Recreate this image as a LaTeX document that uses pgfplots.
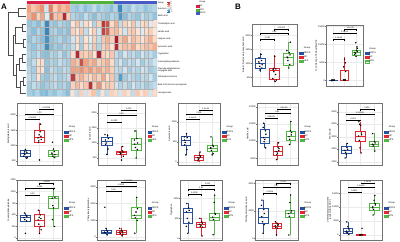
\documentclass[border=0pt]{standalone}
\usepackage{pgfplots}
\pgfplotsset{compat=1.18}
\usepgfplotslibrary{statistics}
\usepackage{fontspec}
\setmainfont{Liberation Sans}
\definecolor{cb}{RGB}{40,80,160}
\definecolor{cr}{RGB}{228,40,50}
\definecolor{cg}{RGB}{85,180,70}
\definecolor{ar}{RGB}{220,30,70}
\definecolor{ag}{RGB}{80,180,60}
\definecolor{ab}{RGB}{70,90,200}
\newcommand\fs[1]{\fontsize{#1}{#1}\selectfont}
\newcommand\bxp[7]{\addplot[#2,line width=0.4bp,boxplot prepared={draw position=#1,box extend=0.7,whisker extend=0,lower whisker=#3,lower quartile=#4,median=#5,upper quartile=#6,upper whisker=#7}] coordinates {};}
\newcommand\pts[2]{\addplot[only marks,mark=*,mark size=0.5bp,draw=none,fill=#1!80!black] coordinates {#2};}
\newcommand\brk[6]{\addplot[black,line width=0.25bp] coordinates {(#1,#5)(#1,#4)(#2,#4)(#2,#5)};
  \node[font=\fs{2.1},anchor=south,inner sep=0.25bp] at (axis cs:#3,#4) {#6};}
\newcommand\leg{\addlegendimage{empty legend}\addlegendimage{cb}\addlegendimage{cr}\addlegendimage{cg}\legend{Group,NDCS,NC,HFS}}
\pgfplotsset{
 bx/.style={scale only axis, clip=false, xmin=0.4, xmax=3.6,
  xtick={1,2,3}, xticklabels={},
  axis line style={black!55, line width=0.45bp},
  major tick length=0.8bp, tick style={black!55, line width=0.25bp},
  ytick pos=left, xtick pos=bottom, tick align=outside,
  grid=major, grid style={black!8, line width=0.3bp},
  scaled y ticks=false,
  /pgf/number format/assume math mode=true,
  yticklabel style={font=\fs{2.3}, /pgf/number format/1000 sep={}, /pgf/number format/fixed, inner sep=0.4bp},
  ylabel style={font=\fs{2.3}, inner sep=0.3bp, align=center},
  boxplot/draw direction=y,
  legend style={at={(1.05,0.5)}, anchor=west, draw=none, fill=none, font=\fs{2.3}, inner sep=0pt, nodes={inner sep=0.4bp}, row sep=0.2bp},
  legend cell align=left,
  legend image code/.code={\draw[##1,fill=white,line width=0.35bp](0bp,-1.1bp) rectangle (3.6bp,1.1bp); \draw[##1,line width=0.35bp](0bp,0bp)--(3.6bp,0bp);},
 }
}
\begin{document}
\begin{tikzpicture}
\useasboundingbox (0bp,0bp) rectangle (400bp,242bp);
\node[font=\fs{8}\bfseries, anchor=center] at (4bp,235bp) {A};
\node[font=\fs{8}\bfseries, anchor=center] at (238bp,235bp) {B};

% ---------------- heatmap ----------------
\begin{axis}[at={(27bp,145.5bp)}, anchor=south west, width=130bp, height=95.5bp, scale only axis, clip=false,
 xmin=0.5, xmax=30.5, ymin=0.5, ymax=12.95,
 axis line style={draw=none}, major tick length=0pt, xtick=\empty,
 ytick={1,2,3,4,5,6,7,8,9,10,11,12},
 yticklabels={Levoglucosan,Beta-D-Fructose 6-phosphate,Tetrahydrocortisone,{Phenylacetylglutamine\\conjugate acid},N-acetylphenylalanine,Tryptophan,Kynurenic acid,Hippuric acid,Vanillic acid,Tricarballylic acid,Malic acid,Succinic acid},
 yticklabel pos=right,
 yticklabel style={font=\fs{2.2}, align=left, inner sep=0.6bp},
 colormap={hm}{rgb255(0cm)=(33,102,172); rgb255(0.9cm)=(67,147,195); rgb255(1.8cm)=(146,197,222); rgb255(2.2cm)=(209,229,240); rgb255(2.5cm)=(247,247,247); rgb255(2.9cm)=(253,219,199); rgb255(3.4cm)=(244,165,130); rgb255(4.5cm)=(214,96,77); rgb255(5.5cm)=(178,24,43)},
 point meta min=-2.5, point meta max=3,
 colorbar,
 colorbar style={scale only axis, at={(1.077,0.995)}, anchor=north west, width=3.2bp, height=11bp,
   ytick={-2,-1,0,1,2,3}, yticklabel style={font=\fs{1.8}, inner sep=0.3bp},
   major tick length=0.6bp, tick style={white}, axis line style={draw=none},
   /pgf/number format/assume math mode=true},
 legend style={at={(1.3,1.005)}, anchor=north west, draw=none, fill=none, font=\fs{2.2}, inner sep=0pt, nodes={inner sep=0.35bp}, row sep=0pt},
 legend cell align=left,
 legend image code/.code={\fill[#1](0bp,-0.9bp) rectangle (2.4bp,1.2bp);},
]
\addlegendimage{empty legend}\addlegendimage{ar}\addlegendimage{ag}\addlegendimage{ab}
\legend{Group,NC,HFS,NDCS}
\addplot[matrix plot*, mesh/cols=30, point meta=explicit, draw=black!30, line width=0.12bp] coordinates {
(1,1)[-0.6] (2,1)[-0.7] (3,1)[-0.5] (4,1)[-0.8] (5,1)[-0.9] (6,1)[-0.6] (7,1)[-0.7] (8,1)[-0.5] (9,1)[-0.6] (10,1)[-0.8] (11,1)[0.3] (12,1)[-0.4] (13,1)[0.5] (14,1)[-0.3] (15,1)[0.4] (16,1)[0.6] (17,1)[-0.5] (18,1)[0.3] (19,1)[-0.4] (20,1)[0.5] (21,1)[0.4] (22,1)[-0.3] (23,1)[0.5] (24,1)[0.3] (25,1)[-0.4] (26,1)[0.6] (27,1)[0.3] (28,1)[0.5] (29,1)[-0.3] (30,1)[0.4]

(1,2)[-0.6] (2,2)[-0.4] (3,2)[-0.5] (4,2)[-0.7] (5,2)[-0.6] (6,2)[-0.5] (7,2)[-0.4] (8,2)[-0.6] (9,2)[-0.5] (10,2)[-0.7] (11,2)[0.5] (12,2)[0.7] (13,2)[0.4] (14,2)[0.6] (15,2)[2.7] (16,2)[0.5] (17,2)[1.2] (18,2)[0.4] (19,2)[0.6] (20,2)[0.5] (21,2)[-0.3] (22,2)[-0.5] (23,2)[-0.4] (24,2)[-0.6] (25,2)[-0.3] (26,2)[-0.5] (27,2)[-0.4] (28,2)[-0.6] (29,2)[-0.5] (30,2)[-0.4]

(1,3)[-0.4] (2,3)[-0.5] (3,3)[0.3] (4,3)[-0.6] (5,3)[-0.7] (6,3)[-0.5] (7,3)[-0.4] (8,3)[-0.6] (9,3)[-0.5] (10,3)[-0.4] (11,3)[2.5] (12,3)[0.6] (13,3)[0.8] (14,3)[0.5] (15,3)[0.4] (16,3)[0.7] (17,3)[0.5] (18,3)[0.9] (19,3)[0.3] (20,3)[0.6] (21,3)[-0.5] (22,3)[-1.4] (23,3)[-0.6] (24,3)[-0.4] (25,3)[-0.5] (26,3)[-0.6] (27,3)[-0.4] (28,3)[-0.5] (29,3)[-0.3] (30,3)[-0.6]

(1,4)[-0.5] (2,4)[-0.6] (3,4)[0.4] (4,4)[0.3] (5,4)[-0.8] (6,4)[-0.4] (7,4)[-0.5] (8,4)[-0.6] (9,4)[-0.4] (10,4)[-0.5] (11,4)[1.0] (12,4)[0.9] (13,4)[1.2] (14,4)[0.8] (15,4)[1.1] (16,4)[0.7] (17,4)[0.9] (18,4)[0.6] (19,4)[0.8] (20,4)[0.5] (21,4)[-0.4] (22,4)[-0.5] (23,4)[-0.3] (24,4)[-0.6] (25,4)[-0.4] (26,4)[-0.5] (27,4)[-0.3] (28,4)[-0.4] (29,4)[-0.6] (30,4)[-0.5]

(1,5)[-0.6] (2,5)[-0.4] (3,5)[0.3] (4,5)[0.4] (5,5)[-0.7] (6,5)[-0.5] (7,5)[-0.6] (8,5)[-0.4] (9,5)[-0.5] (10,5)[-0.6] (11,5)[0.8] (12,5)[0.6] (13,5)[2.2] (14,5)[1.0] (15,5)[0.7] (16,5)[0.9] (17,5)[0.5] (18,5)[0.6] (19,5)[0.8] (20,5)[0.4] (21,5)[-0.5] (22,5)[-0.3] (23,5)[-0.6] (24,5)[-0.4] (25,5)[-0.5] (26,5)[-0.3] (27,5)[-0.6] (28,5)[-0.4] (29,5)[-0.5] (30,5)[-0.3]

(1,6)[-0.5] (2,6)[-0.6] (3,6)[-0.4] (4,6)[-0.7] (5,6)[-0.8] (6,6)[-0.5] (7,6)[-0.6] (8,6)[-0.4] (9,6)[-0.7] (10,6)[-0.5] (11,6)[0.4] (12,6)[2.8] (13,6)[0.6] (14,6)[0.5] (15,6)[0.7] (16,6)[0.3] (17,6)[2.9] (18,6)[0.5] (19,6)[0.4] (20,6)[0.6] (21,6)[-0.4] (22,6)[-0.6] (23,6)[-0.3] (24,6)[-0.5] (25,6)[-0.4] (26,6)[-0.6] (27,6)[-0.3] (28,6)[-0.5] (29,6)[-0.4] (30,6)[-0.6]

(1,7)[-0.6] (2,7)[-0.7] (3,7)[-0.5] (4,7)[-0.6] (5,7)[-1.7] (6,7)[-0.8] (7,7)[-0.6] (8,7)[-0.7] (9,7)[-0.5] (10,7)[-0.6] (11,7)[-0.4] (12,7)[0.3] (13,7)[-0.6] (14,7)[0.4] (15,7)[-0.3] (16,7)[0.6] (17,7)[-0.5] (18,7)[0.5] (19,7)[0.7] (20,7)[0.3] (21,7)[2.8] (22,7)[0.5] (23,7)[0.7] (24,7)[0.6] (25,7)[0.9] (26,7)[0.4] (27,7)[0.5] (28,7)[0.7] (29,7)[0.6] (30,7)[0.8]

(1,8)[-0.7] (2,8)[-0.5] (3,8)[-0.6] (4,8)[-0.8] (5,8)[-1.6] (6,8)[-0.7] (7,8)[-0.6] (8,8)[-0.5] (9,8)[-0.7] (10,8)[-0.6] (11,8)[-0.3] (12,8)[0.4] (13,8)[-0.5] (14,8)[0.3] (15,8)[-0.2] (16,8)[0.5] (17,8)[-0.4] (18,8)[0.6] (19,8)[0.8] (20,8)[0.5] (21,8)[3.0] (22,8)[0.6] (23,8)[0.9] (24,8)[0.4] (25,8)[0.7] (26,8)[0.5] (27,8)[0.3] (28,8)[0.6] (29,8)[0.8] (30,8)[0.4]

(1,9)[-0.6] (2,9)[-0.8] (3,9)[-0.5] (4,9)[-0.7] (5,9)[-1.9] (6,9)[-0.6] (7,9)[-0.5] (8,9)[-0.7] (9,9)[-0.6] (10,9)[-0.8] (11,9)[0.5] (12,9)[0.3] (13,9)[0.6] (14,9)[-0.4] (15,9)[0.2] (16,9)[0.5] (17,9)[-0.3] (18,9)[2.4] (19,9)[2.0] (20,9)[0.6] (21,9)[0.7] (22,9)[0.4] (23,9)[-0.3] (24,9)[0.5] (25,9)[0.6] (26,9)[0.3] (27,9)[-0.2] (28,9)[0.4] (29,9)[0.5] (30,9)[0.2]

(1,10)[-0.7] (2,10)[-0.6] (3,10)[-0.8] (4,10)[-0.5] (5,10)[-1.8] (6,10)[-0.6] (7,10)[-0.7] (8,10)[-0.5] (9,10)[-0.6] (10,10)[-0.7] (11,10)[0.3] (12,10)[0.6] (13,10)[-0.3] (14,10)[0.4] (15,10)[0.2] (16,10)[-0.5] (17,10)[0.5] (18,10)[2.6] (19,10)[2.2] (20,10)[0.4] (21,10)[0.8] (22,10)[-0.4] (23,10)[0.5] (24,10)[0.3] (25,10)[0.6] (26,10)[-0.3] (27,10)[0.4] (28,10)[0.5] (29,10)[-0.2] (30,10)[0.3]

(1,11)[0.8] (2,11)[1.2] (3,11)[0.5] (4,11)[0.9] (5,11)[-0.2] (6,11)[1.8] (7,11)[0.6] (8,11)[0.7] (9,11)[2.8] (10,11)[0.5] (11,11)[-0.5] (12,11)[-0.6] (13,11)[-0.7] (14,11)[-0.4] (15,11)[-0.6] (16,11)[-0.8] (17,11)[-0.5] (18,11)[-0.6] (19,11)[-0.7] (20,11)[-0.5] (21,11)[-0.6] (22,11)[-1.5] (23,11)[-0.8] (24,11)[-0.5] (25,11)[-0.6] (26,11)[-0.7] (27,11)[-0.4] (28,11)[-0.6] (29,11)[-0.5] (30,11)[-0.7]

(1,12)[1.0] (2,12)[0.6] (3,12)[0.8] (4,12)[1.2] (5,12)[-0.3] (6,12)[1.5] (7,12)[0.5] (8,12)[1.0] (9,12)[0.7] (10,12)[0.9] (11,12)[-0.6] (12,12)[-0.7] (13,12)[-0.5] (14,12)[-0.8] (15,12)[-0.6] (16,12)[-0.4] (17,12)[-0.7] (18,12)[-0.5] (19,12)[-0.6] (20,12)[-0.8] (21,12)[-0.5] (22,12)[-1.8] (23,12)[-0.6] (24,12)[-0.7] (25,12)[-0.4] (26,12)[-0.6] (27,12)[-0.5] (28,12)[-0.7] (29,12)[-0.6] (30,12)[-0.5]
};
% annotation bar
\addplot[fill=ar, draw=none] coordinates {(0.5,12.55)(10.5,12.55)(10.5,12.95)(0.5,12.95)} -- cycle;
\addplot[fill=ag, draw=none] coordinates {(10.5,12.55)(20.5,12.55)(20.5,12.95)(10.5,12.95)} -- cycle;
\addplot[fill=ab, draw=none] coordinates {(20.5,12.55)(30.5,12.55)(30.5,12.95)(20.5,12.95)} -- cycle;
\node[anchor=west, font=\fs{2.2}, inner sep=0.6bp] at (axis cs:30.5,12.75) {Group};
% dendrogram
\addplot[black!70, line width=0.25bp] coordinates {(0.3,12)(-1.58,12)(-1.58,11)(0.3,11)};
\addplot[black!70, line width=0.25bp] coordinates {(0.3,10)(-0.65,10)(-0.65,9)(0.3,9)};
\addplot[black!70, line width=0.25bp] coordinates {(0.3,8)(-0.42,8)(-0.42,7)(0.3,7)};
\addplot[black!70, line width=0.25bp] coordinates {(-0.65,9.5)(-2.27,9.5)(-2.27,7.5)(-0.42,7.5)};
\addplot[black!70, line width=0.25bp] coordinates {(0.3,6)(-0.65,6)(-0.65,5)(0.3,5)};
\addplot[black!70, line width=0.25bp] coordinates {(-0.65,5.5)(-1.35,5.5)(-1.35,4)(0.3,4)};
\addplot[black!70, line width=0.25bp] coordinates {(0.3,3)(-0.42,3)(-0.42,2)(0.3,2)};
\addplot[black!70, line width=0.25bp] coordinates {(-0.42,2.5)(-1.12,2.5)(-1.12,1)(0.3,1)};
\addplot[black!70, line width=0.25bp] coordinates {(-1.35,4.75)(-2.04,4.75)(-2.04,1.75)(-1.12,1.75)};
\addplot[black!70, line width=0.25bp] coordinates {(-2.27,8.5)(-2.73,8.5)(-2.73,3.25)(-2.04,3.25)};
\addplot[black!70, line width=0.25bp] coordinates {(-1.58,11.5)(-3.88,11.5)(-3.88,5.875)(-2.73,5.875)};
\end{axis}

% ---------------- B1 ----------------
\begin{axis}[bx, at={(252bp,156bp)}, width=45bp, height=62bp, ymin=190, ymax=2400, ytick={500,1000,1500,2000}, ylabel={Beta-D-Fructose 6-phosphate acid}]
\leg
\bxp{1}{cb}{700}{820}{998}{1176}{1354}
\bxp{2}{cr}{343}{439}{760}{820}{1293}
\bxp{3}{cg}{820}{938}{1212}{1354}{1767}
\pts{cb}{(0.92,1000)(1.08,1100)(0.95,890)(1.12,950)(0.88,1050)(1.05,1320)(0.97,760)(1.1,830)(0.9,1200)}
\pts{cr}{(1.9,780)(2.1,800)(1.95,700)(2.08,600)(1.88,450)(2.12,400)(2.02,1250)(1.93,820)(2.05,350)}
\pts{cg}{(2.9,1220)(3.1,1300)(2.95,1100)(3.08,950)(2.88,1450)(3.12,1750)(3.02,830)(2.93,1200)(3.05,1380)}
\brk{1}{2}{1.5}{1852}{1807}{0.035}
\brk{1}{3}{2}{2066}{2021}{0.12}
\brk{2}{3}{2.5}{2209}{2164}{0.00073}
\end{axis}

% ---------------- B2 ----------------
\begin{axis}[bx, at={(326bp,156bp)}, width=37bp, height=61bp, ymin=-1500, ymax=15340, ytick={0,5000,10000,15000}, ylabel={N-(1-Deoxy-1-fructosyl)leucine}]
\leg
\bxp{1}{cb}{0}{20}{60}{120}{200}
\bxp{2}{cr}{0}{100}{200}{2900}{6400}
\bxp{3}{cg}{6600}{7050}{7800}{8450}{9350}
\pts{cb}{(0.9,50)(1.1,80)(0.95,30)(1.05,120)(0.88,10)(1.12,150)(1.0,60)(0.93,200)}
\pts{cr}{(1.9,150)(2.1,100)(1.95,200)(2.05,300)(2.1,2500)(1.92,3800)(2.08,4900)(2.0,5900)(1.97,80)}
\pts{cg}{(2.9,7800)(3.1,8000)(2.95,7500)(3.05,8300)(2.88,7200)(3.12,8900)(3.0,6700)(2.97,10450)(3.08,9300)}
\brk{1}{2}{1.5}{11390}{11060}{1.1e-05}
\brk{1}{3}{2}{13050}{12720}{1.1e-05}
\brk{2}{3}{2.5}{14150}{13820}{1.1e-05}
\end{axis}

% ---------------- Row 2 ----------------
\begin{axis}[bx, at={(17bp,77bp)}, width=45bp, height=62bp, ymin=358, ymax=2395, ytick={500,1000,1500,2000}, ylabel={Methylmalonic acid}]
\leg
\bxp{1}{cb}{578}{631}{743}{828}{875}
\bxp{2}{cr}{1072}{1105}{1270}{1486}{1730}
\bxp{3}{cg}{578}{631}{720}{828}{907}
\pts{cb}{(0.9,740)(1.1,760)(0.95,700)(1.05,820)(0.88,650)(1.12,600)(1.0,870)(0.93,790)(1.08,580)}
\pts{cr}{(1.9,1250)(2.1,1300)(1.95,1150)(2.05,1450)(1.92,1100)(2.08,1700)(2.0,523)(1.97,1350)(2.12,1200)}
\pts{cg}{(2.9,720)(3.1,700)(2.95,650)(3.05,800)(2.92,1105)(3.08,600)(3.0,880)(2.88,750)}
\brk{1}{2}{1.5}{1862}{1822}{0.00025}
\brk{1}{3}{2}{2036}{1996}{0.72}
\brk{2}{3}{2.5}{2190}{2150}{0.00025}
\end{axis}

\begin{axis}[bx, at={(98bp,77bp)}, width=47bp, height=62bp, ymin=267, ymax=2333, ytick={500,1000,1500,2000}, ylabel={Succinic acid}]
\leg
\bxp{1}{cb}{600}{933}{1076}{1209}{1300}
\bxp{2}{cr}{490}{633}{690}{743}{900}
\bxp{3}{cg}{490}{767}{966}{1156}{1433}
\pts{cb}{(0.9,1100)(1.1,1150)(0.95,1000)(1.05,1250)(0.92,950)(1.08,800)(1.0,620)(0.88,1280)}
\pts{cr}{(1.9,690)(2.1,700)(1.95,650)(2.05,740)(1.92,620)(2.08,880)(2.0,433)(2.12,560)}
\pts{cg}{(2.9,960)(3.1,1000)(2.95,850)(3.05,1150)(2.92,1400)(3.08,780)(3.0,500)(2.88,1100)}
\brk{1}{2}{1.5}{1709}{1669}{0.0023}
\brk{1}{3}{2}{1932}{1892}{0.18}
\brk{2}{3}{2.5}{2098}{2058}{0.025}
\end{axis}

\begin{axis}[bx, at={(178bp,77bp)}, width=42bp, height=62bp, ymin=-83, ymax=1467, ytick={0,500,1000}, ylabel={Kynurenic acid}]
\leg
\bxp{1}{cb}{167}{417}{542}{625}{717}
\bxp{2}{cr}{0}{42}{104}{167}{242}
\bxp{3}{cg}{167}{250}{342}{417}{625}
\pts{cb}{(0.9,540)(1.1,600)(0.95,480)(1.05,700)(0.92,420)(1.08,300)(1.0,170)(0.88,620)}
\pts{cr}{(1.9,100)(2.1,120)(1.95,60)(2.05,160)(1.92,20)(2.08,240)(2.0,90)(2.12,140)}
\pts{cg}{(2.9,340)(3.1,380)(2.95,280)(3.05,410)(2.92,620)(3.08,200)(3.0,170)(2.88,350)}
\brk{1}{2}{1.5}{1060}{1030}{1.1e-05}
\brk{1}{3}{2}{1192}{1162}{0.031}
\brk{2}{3}{2.5}{1292}{1262}{1.1e-05}
\end{axis}

\begin{axis}[bx, at={(257bp,77bp)}, width=41bp, height=62bp, ymin=3030, ymax=21090, ytick={5000,10000,15000,20000}, ylabel={Vanillic acid}]
\leg
\bxp{1}{cb}{7940}{9410}{11060}{13320}{15290}
\bxp{2}{cr}{4500}{5970}{6940}{8410}{9590}
\bxp{3}{cg}{8910}{10380}{11350}{12820}{15760}
\pts{cb}{(0.9,11000)(1.1,12000)(0.95,9800)(1.05,13000)(0.92,15200)(1.08,8000)(1.0,10500)(0.88,14000)}
\pts{cr}{(1.9,6900)(2.1,7200)(1.95,6000)(2.05,8200)(1.92,4600)(2.08,9500)(2.0,6500)(2.12,7800)}
\pts{cg}{(2.9,11300)(3.1,12500)(2.95,10500)(3.05,15700)(2.92,9000)(3.08,11800)(3.0,13000)}
\brk{1}{2}{1.5}{16760}{16410}{0.00023}
\brk{1}{3}{2}{18230}{17880}{0.51}
\brk{2}{3}{2.5}{19400}{19050}{4.5e-05}
\end{axis}

\begin{axis}[bx, at={(338bp,77bp)}, width=44bp, height=62bp, ymin=736, ymax=5696, ytick={1000,2000,3000,4000,5000}, ylabel={Malic acid}]
\leg
\bxp{1}{cb}{1270}{1670}{1936}{2200}{2470}
\bxp{2}{cr}{1670}{2600}{3056}{3400}{4200}
\bxp{3}{cg}{1800}{2200}{2416}{2600}{3270}
\pts{cb}{(0.9,1900)(1.1,2000)(0.95,1750)(1.05,2150)(0.92,1300)(1.08,2450)(1.0,1600)}
\pts{cr}{(1.9,3050)(2.1,3300)(1.95,2700)(2.05,3900)(1.92,4200)(2.08,1700)(2.0,2100)(2.12,3150)(1.97,4000)}
\pts{cg}{(2.9,2400)(3.1,2500)(2.95,2250)(3.05,2600)(2.92,3250)(3.08,1850)(3.0,2350)}
\brk{1}{2}{1.5}{4336}{4241}{0.001}
\brk{1}{3}{2}{4816}{4721}{0.00059}
\brk{2}{3}{2.5}{5190}{5095}{0.035}
\end{axis}

% ---------------- Row 3 ----------------
\begin{axis}[bx, at={(17bp,2bp)}, width=45bp, height=60bp, ymin=-40, ymax=1250, ytick={0,250,500,750,1000,1250}, ylabel={N-acetylphenylalanine}]
\leg
\bxp{1}{cb}{353}{368}{440}{497}{547}
\bxp{2}{cr}{104}{246}{390}{512}{605}
\bxp{3}{cg}{246}{641}{857}{891}{1071}
\pts{cb}{(0.9,440)(1.1,460)(0.95,400)(1.05,490)(0.92,540)(1.08,370)(1.0,104)}
\pts{cr}{(1.9,390)(2.1,420)(1.95,300)(2.05,500)(1.92,600)(2.08,250)(2.0,104)(2.12,180)(1.97,450)}
\pts{cg}{(2.9,860)(3.1,880)(2.95,700)(3.05,1070)(2.92,400)(3.08,250)(3.0,650)}
\brk{1}{2}{1.5}{927}{901}{0.33}
\brk{1}{3}{2}{1071}{1045}{0.018}
\brk{2}{3}{2.5}{1179}{1153}{0.0055}
\end{axis}

\begin{axis}[bx, at={(97bp,2bp)}, width=48bp, height=60bp, ymin=-176, ymax=3412, ytick={0,1000,2000,3000}, ylabel={Phenylacetylglutamine}]
\leg
\bxp{1}{cb}{118}{218}{294}{412}{530}
\bxp{2}{cr}{59}{176}{294}{412}{530}
\bxp{3}{cg}{218}{1100}{1294}{1782}{2370}
\pts{cb}{(0.9,300)(1.1,320)(0.95,250)(1.05,400)(0.92,1782)(1.08,130)(1.0,520)}
\pts{cr}{(1.9,290)(2.1,310)(1.95,200)(2.05,400)(1.92,520)(2.08,70)(2.0,350)(2.12,180)}
\pts{cg}{(2.9,1300)(3.1,1700)(2.95,1150)(3.05,2370)(2.92,230)(3.08,1000)(3.0,1500)}
\brk{1}{2}{1.5}{2764}{2694}{0.18}
\brk{1}{3}{2}{3058}{2988}{0.0012}
\brk{2}{3}{2.5}{3293}{3223}{0.00013}
\end{axis}

\begin{axis}[bx, at={(180bp,2bp)}, width=42bp, height=60bp, ymin=-42, ymax=1458, ytick={0,500,1000}, ylabel={Tryptophan}]
\leg
\bxp{1}{cb}{125}{383}{665}{758}{875}
\bxp{2}{cr}{58}{290}{358}{415}{508}
\bxp{3}{cg}{83}{458}{533}{625}{1083}
\pts{cb}{(0.9,660)(1.1,700)(0.95,500)(1.05,760)(0.92,870)(1.08,400)(1.0,125)(0.88,300)}
\pts{cr}{(1.9,350)(2.1,380)(1.95,300)(2.05,410)(1.92,500)(2.08,60)(2.0,330)(2.12,280)}
\pts{cg}{(2.9,530)(3.1,600)(2.95,470)(3.05,1080)(2.92,90)(3.08,620)(3.0,900)}
\brk{1}{2}{1.5}{1100}{1070}{0.0038}
\brk{1}{3}{2}{1225}{1195}{0.11}
\brk{2}{3}{2.5}{1333}{1303}{0.011}
\end{axis}

\begin{axis}[bx, at={(255bp,2bp)}, width=43bp, height=60bp, ymin=-124, ymax=4240, ytick={0,2000,4000}, ylabel={Tetrahydrocortisone acid}]
\leg
\bxp{1}{cb}{363}{1090}{1570}{2180}{2784}
\bxp{2}{cr}{240}{726}{916}{1090}{1206}
\bxp{3}{cg}{240}{1570}{1817}{2057}{3148}
\pts{cb}{(0.9,1570)(1.1,1800)(0.95,1200)(1.05,2100)(0.92,2780)(1.08,1000)(1.0,363)(0.88,2400)}
\pts{cr}{(1.9,900)(2.1,950)(1.95,800)(2.05,1080)(1.92,1200)(2.08,740)(2.0,240)(2.12,1000)}
\pts{cg}{(2.9,1800)(3.1,2000)(2.95,1600)(3.05,3148)(2.92,240)(3.08,1900)(3.0,2600)}
\brk{1}{2}{1.5}{3270}{3183}{0.0059}
\brk{1}{3}{2}{3750}{3663}{0.27}
\brk{2}{3}{2.5}{3998}{3911}{0.011}
\end{axis}

\begin{axis}[bx, at={(340bp,2bp)}, width=42bp, height=60bp, ymin=-1785, ymax=19750, ytick={0,5000,10000,15000}, ylabel={2-Methylbutyroylcarnitine\\(acylcarnitine C5:0)}]
\leg
\bxp{1}{cb}{0}{607}{1428}{2390}{4750}
\bxp{2}{cr}{0}{30}{80}{150}{250}
\bxp{3}{cg}{7140}{8925}{10100}{11320}{14280}
\pts{cb}{(0.9,1400)(1.1,1800)(0.95,900)(1.05,2300)(0.92,4700)(1.08,300)(1.0,3000)(0.88,1100)}
\pts{cr}{(1.9,80)(2.1,100)(1.95,50)(2.05,150)(1.92,20)(2.08,2390)(2.0,120)}
\pts{cg}{(2.9,10100)(3.1,10800)(2.95,9200)(3.05,14200)(2.92,7200)(3.08,11300)(3.0,12500)(2.88,9800)}
\brk{1}{2}{1.5}{15460}{15030}{0.0011}
\brk{1}{3}{2}{17240}{16810}{1.1e-05}
\brk{2}{3}{2.5}{18800}{18370}{1.1e-05}
\end{axis}
\end{tikzpicture}
\end{document}
